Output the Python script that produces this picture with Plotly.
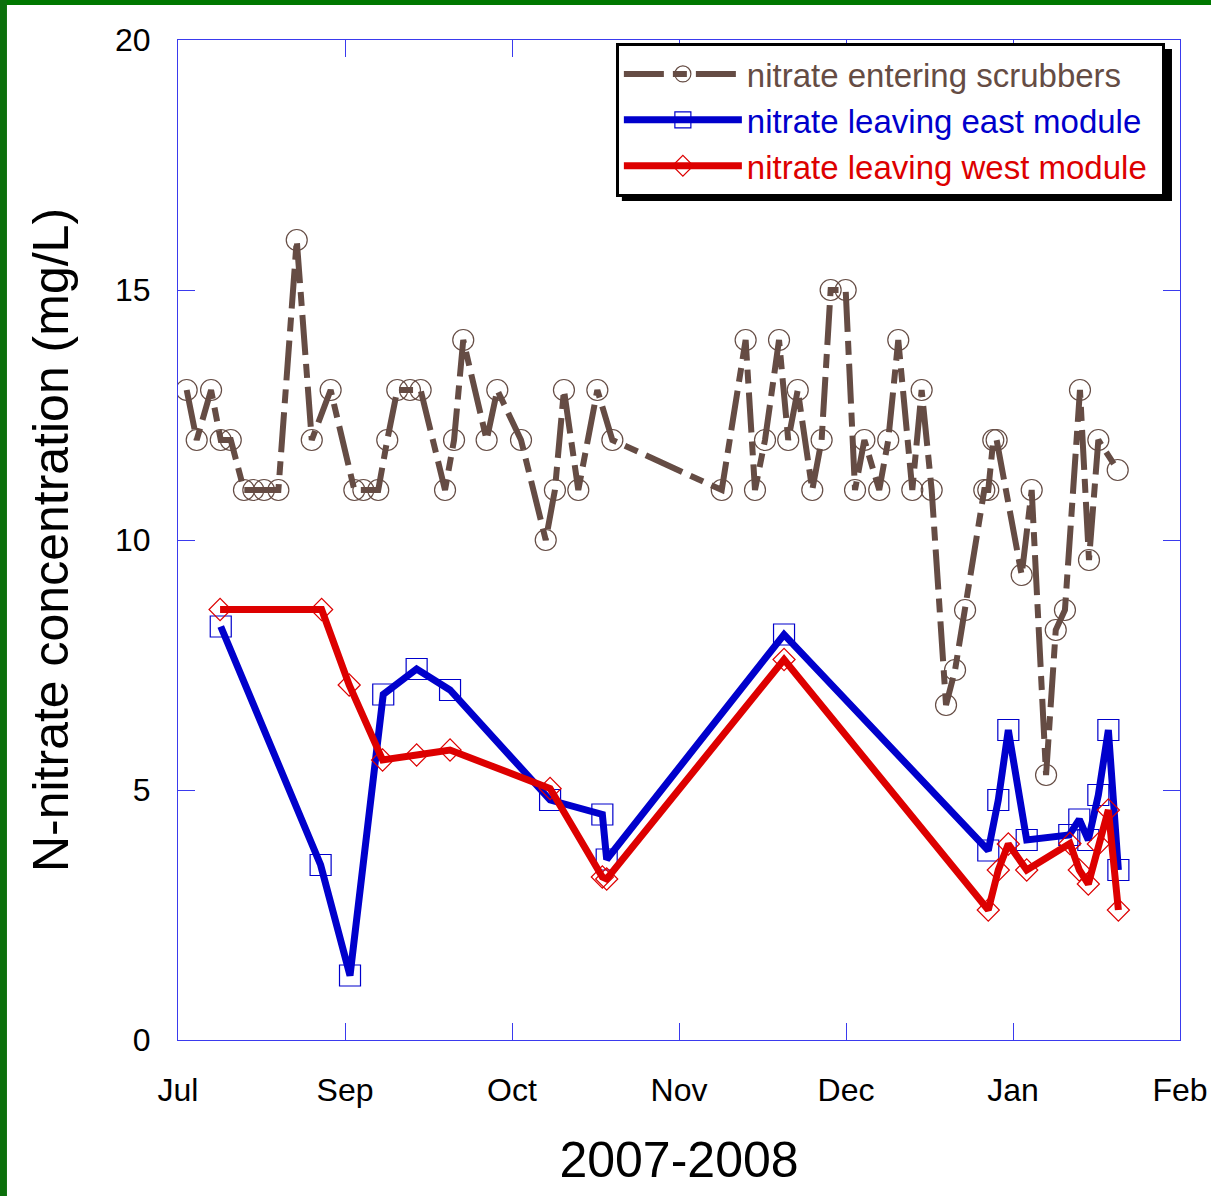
import plotly.graph_objects as go

# x positions in "axis month units" (0=Jul, 1=Sep, 2=Oct, 3=Nov, 4=Dec, 5=Jan, 6=Feb)
tick_vals = [0, 1, 2, 3, 4, 5, 6]
tick_text = ["Jul", "Sep", "Oct", "Nov", "Dec", "Jan", "Feb"]

entering_x = [0.052, 0.112, 0.198, 0.256, 0.316, 0.395, 0.451, 0.515, 0.601, 0.711,
              0.801, 0.914, 1.056, 1.110, 1.199, 1.253, 1.313, 1.389, 1.453, 1.599,
              1.653, 1.708, 1.848, 1.912, 2.054, 2.202, 2.257, 2.311, 2.397, 2.511,
              2.601, 3.256, 3.399, 3.455, 3.515, 3.599, 3.654, 3.711, 3.798, 3.854,
              3.908, 3.998, 4.054, 4.110, 4.199, 4.253, 4.313, 4.397, 4.453, 4.513,
              4.599, 4.653, 4.713, 4.828, 4.852, 4.882, 4.902, 5.052, 5.112, 5.198,
              5.256, 5.311, 5.401, 5.455, 5.511, 5.627]
entering_y = [13, 12, 13, 12, 12, 11, 11, 11, 11, 16,
              12, 13, 11, 11, 11, 12, 13, 13, 13, 11,
              12, 14, 12, 13, 12, 10, 11, 13, 11, 13,
              12, 11, 14, 11, 12, 14, 12, 13, 11, 12,
              15, 15, 11, 12, 11, 12, 14, 11, 13, 11,
              6.7, 7.4, 8.6, 11, 11, 12, 12, 9.3, 11, 5.3,
              8.2, 8.6, 13, 9.6, 12, 11.4]

east_x = [0.256, 0.854, 1.030, 1.229, 1.429, 1.629, 2.228, 2.541, 2.567, 3.629,
          4.852, 4.912, 4.972, 5.082, 5.337, 5.397, 5.451, 5.511, 5.571, 5.631]
east_y = [8.27, 3.5, 1.29, 6.91, 7.42, 7.0, 4.8, 4.51, 3.61, 8.11,
          3.79, 4.8, 6.2, 4.0, 4.1, 4.41, 4.0, 4.9, 6.2, 3.4]

west_x = [0.252, 0.860, 1.025, 1.225, 1.429, 1.629, 2.228, 2.541, 2.567, 3.629,
          4.852, 4.912, 4.972, 5.082, 5.341, 5.397, 5.451, 5.511, 5.571, 5.631]
west_y = [8.61, 8.61, 7.1, 5.6, 5.7, 5.8, 5.03, 3.26, 3.22, 7.61,
          2.6, 3.4, 3.92, 3.4, 3.93, 3.4, 3.12, 3.92, 4.6, 2.6]

BROWN = "#654c44"
BLUE = "#0000cc"
RED = "#dd0000"
AXIS = "#3a3aee"
FONT = "Liberation Sans, Arial, sans-serif"
PAD = "\u00a0"

fig = go.Figure()
fig.add_trace(go.Scatter(
    x=entering_x, y=entering_y, mode="lines+markers",
    name=f'<span style="color:{BROWN}">nitrate entering scrubbers{PAD}</span>',
    line=dict(color=BROWN, width=6, dash="40px,9px,14px,9px"),
    marker=dict(symbol="circle-open", size=21, color=BROWN, line=dict(width=1.2, color=BROWN)),
))
fig.add_trace(go.Scatter(
    x=east_x, y=east_y, mode="lines+markers",
    name=f'<span style="color:{BLUE}">nitrate leaving east module{PAD}</span>',
    line=dict(color=BLUE, width=7),
    marker=dict(symbol="square-open", size=21, color=BLUE, line=dict(width=1.2, color=BLUE)),
))
fig.add_trace(go.Scatter(
    x=west_x, y=west_y, mode="lines+markers",
    name=f'<span style="color:{RED}">nitrate leaving west module{PAD}</span>',
    line=dict(color=RED, width=7),
    marker=dict(symbol="diamond-open", size=17, color=RED, line=dict(width=1.2, color=RED)),
))

# green slide frame (top and left strips) and legend drop shadow
fig.add_shape(type="rect", xref="paper", yref="paper", x0=-0.1777, x1=1.031, y0=1.035, y1=1.04,
              fillcolor="#007800", line=dict(width=0), layer="below")
fig.add_shape(type="rect", xref="paper", yref="paper", x0=-0.1777, x1=-0.1707, y0=-0.156, y1=1.04,
              fillcolor="#0b700b", line=dict(width=0), layer="below")
fig.add_shape(type="rect", xref="paper", yref="paper", x0=0.443, x1=0.992, y0=0.839, y1=0.991,
              fillcolor="black", line=dict(width=0), layer="above")

fig.update_layout(
    width=1211, height=1196, autosize=False,
    margin=dict(l=178, r=31, t=40, b=156),
    paper_bgcolor="white", plot_bgcolor="white",
    font=dict(family=FONT, size=32, color="black"),
    showlegend=True,
    legend=dict(
        x=0.437, y=0.997, xanchor="left", yanchor="top",
        bgcolor="white", bordercolor="black", borderwidth=3,
        font=dict(family=FONT, size=33),
        itemwidth=118, tracegroupgap=0,
    ),
    xaxis=dict(
        range=[0, 6], tickvals=tick_vals, ticktext=tick_text,
        automargin=False,
        showgrid=False, zeroline=False,
        showline=True, linecolor=AXIS, linewidth=1, mirror="ticks",
        ticks="inside", ticklen=17, tickcolor=AXIS, tickwidth=1,
        tickfont=dict(size=32), ticklabelstandoff=22,
        title=dict(text="2007-2008", font=dict(size=50), standoff=34),
    ),
    yaxis=dict(
        range=[0, 20], dtick=5,
        automargin=False,
        showgrid=False, zeroline=False,
        showline=True, linecolor=AXIS, linewidth=1, mirror="ticks",
        ticks="inside", ticklen=17, tickcolor=AXIS, tickwidth=1,
        tickfont=dict(size=32), ticklabelstandoff=20,
        title=dict(text="N-nitrate concentration (mg/L)", font=dict(size=50), standoff=30),
    ),
)

fig.write_html(
    "out.html",
    config={"responsive": False, "displayModeBar": False},
    post_script="document.body.style.margin='0';document.body.style.overflow='hidden';",
)
